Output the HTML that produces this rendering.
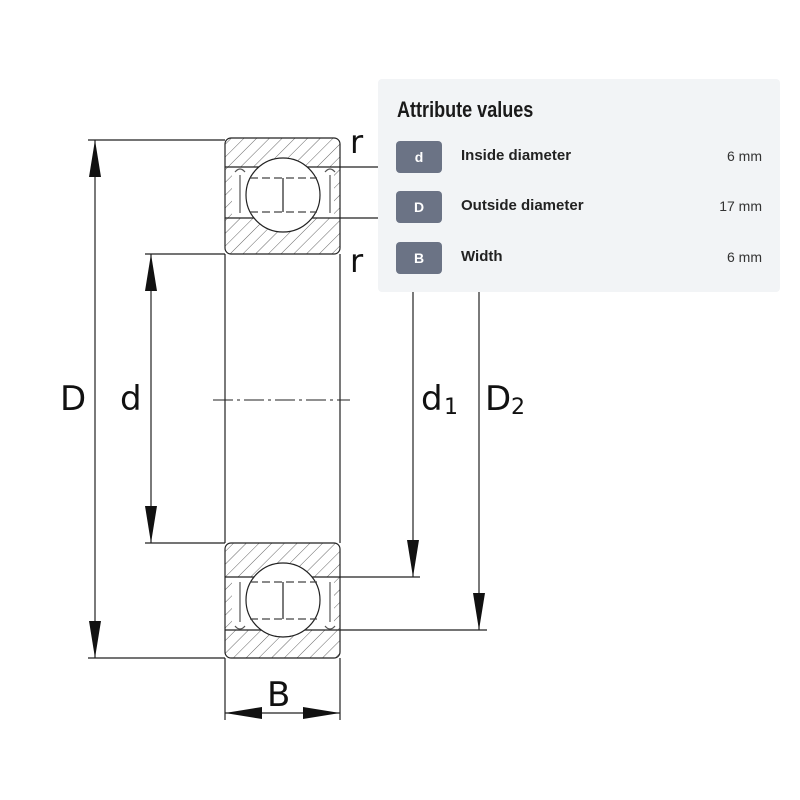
<!DOCTYPE html>
<html><head><meta charset="utf-8"><style>
html,body{margin:0;padding:0;background:#fff;width:800px;height:800px;overflow:hidden;position:relative;font-family:"Liberation Sans",sans-serif}
.panel{position:absolute;left:378px;top:79px;width:402px;height:213px;background:#f2f4f6;border-radius:4px}
.title{position:absolute;left:19px;top:18px;font-size:22px;font-weight:bold;color:#1a1a1a;transform:scaleX(0.82);transform-origin:left}
.row{position:absolute;left:18px;width:366px;height:32px}
.badge{position:absolute;left:0;top:0;width:46px;height:32px;background:#6b7385;border-radius:4px;color:#fff;font-weight:bold;font-size:14px;text-align:center;line-height:32px}
.lab{position:absolute;left:65px;top:6px;font-size:15px;font-weight:bold;color:#222}
.val{position:absolute;right:0;top:7px;font-size:14px;color:#333}
</style></head><body>
<svg width="800" height="800" style="position:absolute;left:0;top:0">
<defs>
<pattern id="h" width="9" height="9" patternUnits="userSpaceOnUse" patternTransform="rotate(45)">
<line x1="0" y1="0" x2="0" y2="9" stroke="#666" stroke-width="1"/></pattern>
</defs>
<g stroke="#222" stroke-width="1.2" fill="none">
<rect x="225" y="138" width="115" height="116" rx="6" fill="url(#h)"/>
<rect x="232" y="167" width="102" height="51" fill="#fff" stroke="none"/>
<line x1="225" y1="167" x2="340" y2="167"/><line x1="225" y1="218" x2="340" y2="218"/>
<circle cx="283" cy="195" r="37" fill="#fff"/>
<path d="M240 175 L240 213 M330 175 L330 213 M235 172 q5 -6 10 0 M325 172 q5 -6 10 0" stroke="#555"/>
<path d="M250 178 L317 178 M250 212 L317 212" stroke="#444" stroke-dasharray="8 4"/>
<line x1="283" y1="178" x2="283" y2="212"/>
<rect x="225" y="543" width="115" height="115" rx="6" fill="url(#h)"/>
<rect x="232" y="577" width="102" height="53" fill="#fff" stroke="none"/>
<line x1="225" y1="577" x2="340" y2="577"/><line x1="225" y1="630" x2="340" y2="630"/>
<circle cx="283" cy="600" r="37" fill="#fff"/>
<path d="M240 582 L240 622 M330 582 L330 622 M235 626 q5 6 10 0 M325 626 q5 6 10 0" stroke="#555"/>
<path d="M250 582 L317 582 M250 619 L317 619" stroke="#444" stroke-dasharray="8 4"/>
<line x1="283" y1="582" x2="283" y2="619"/>
<line x1="225" y1="254" x2="225" y2="543"/><line x1="340" y1="254" x2="340" y2="543"/>
<line x1="213" y1="400" x2="350" y2="400" stroke-dasharray="20 4 3 4" stroke-width="1"/>
<line x1="88" y1="140" x2="225" y2="140"/><line x1="88" y1="658" x2="225" y2="658"/>
<line x1="145" y1="254" x2="225" y2="254"/><line x1="145" y1="543" x2="225" y2="543"/>
<line x1="95" y1="140" x2="95" y2="658"/><line x1="151" y1="254" x2="151" y2="543"/>
<line x1="340" y1="167" x2="380" y2="167"/><line x1="340" y1="218" x2="380" y2="218"/>
<line x1="340" y1="577" x2="420" y2="577"/><line x1="340" y1="630" x2="487" y2="630"/>
<line x1="413" y1="292" x2="413" y2="577"/><line x1="479" y1="292" x2="479" y2="630"/>
<line x1="225" y1="658" x2="225" y2="720"/><line x1="340" y1="658" x2="340" y2="720"/>
<line x1="225" y1="713" x2="340" y2="713"/>
</g>
<g fill="#111">
<polygon points="95,140 89,177 101,177"/><polygon points="95,658 89,621 101,621"/>
<polygon points="151,254 145,291 157,291"/><polygon points="151,543 145,506 157,506"/>
<polygon points="413,577 407,540 419,540"/><polygon points="479,630 473,593 485,593"/>
<polygon points="225,713 262,707 262,719"/><polygon points="340,713 303,707 303,719"/>
</g>
<g font-family="DejaVu Sans, sans-serif" fill="#111">
<text x="60" y="410" font-size="34">D</text>
<text x="120" y="410" font-size="34">d</text>
<text x="421" y="410" font-size="34">d</text><text x="444" y="414" font-size="22">1</text>
<text x="485" y="410" font-size="34">D</text><text x="511" y="414" font-size="22">2</text>
<text x="350" y="153" font-size="32">r</text>
<text x="350" y="272" font-size="32">r</text>
<text x="267" y="706" font-size="34">B</text>
</g>
</svg>
<div class="panel">
<div class="title">Attribute values</div>
<div class="row" style="top:62px"><div class="badge">d</div><div class="lab">Inside diameter</div><div class="val">6 mm</div></div>
<div class="row" style="top:112px"><div class="badge">D</div><div class="lab">Outside diameter</div><div class="val">17 mm</div></div>
<div class="row" style="top:163px"><div class="badge">B</div><div class="lab">Width</div><div class="val">6 mm</div></div>
</div>
</body></html>
